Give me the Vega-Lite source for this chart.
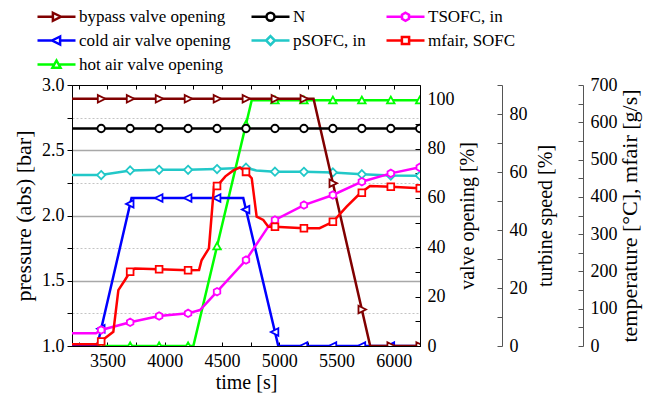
{
  "$schema": "https://vega.github.io/schema/vega-lite/v6.json",
  "width": 348,
  "height": 261,
  "autosize": {"type": "none"},
  "padding": {"left": 72, "top": 85, "right": 227, "bottom": 50},
  "background": "white",
  "config": {
    "font": "Liberation Serif",
    "view": {"stroke": "black", "strokeWidth": 1},
    "axis": {
      "labelFont": "Liberation Serif",
      "labelFontSize": 18,
      "labelColor": "black",
      "titleFont": "Liberation Serif",
      "titleFontSize": 20,
      "titleFontWeight": "normal",
      "titleColor": "black",
      "domainColor": "black",
      "tickColor": "black",
      "grid": false,
      "labelOverlap": false,
      "labelFlush": false
    },
    "legend": {
      "orient": "none",
      "direction": "horizontal",
      "legendX": -39,
      "legendY": -77,
      "columns": 3,
      "title": null,
      "padding": 0,
      "labelFont": "Liberation Serif",
      "labelFontSize": 17,
      "labelColor": "black",
      "labelLimit": 0,
      "symbolSize": 64,
      "symbolStrokeWidth": 2.5,
      "symbolFillColor": "white",
      "symbolBaseFillColor": "white",
      "rowPadding": 5,
      "columnPadding": 15,
      "symbolOffset": 15,
      "labelOffset": 14,
      "gridAlign": "each"
    }
  },
  "datasets": {
    "lines": [
      {"series": "bypass valve opening", "t": 3190, "value": 100.2},
      {"series": "bypass valve opening", "t": 5300, "value": 100.2},
      {"series": "bypass valve opening", "t": 5795, "value": 0},
      {"series": "bypass valve opening", "t": 6230, "value": 0},
      {"series": "cold air valve opening", "t": 3190, "value": 0},
      {"series": "cold air valve opening", "t": 3410, "value": 0},
      {"series": "cold air valve opening", "t": 3710, "value": 60},
      {"series": "cold air valve opening", "t": 4686, "value": 60},
      {"series": "cold air valve opening", "t": 4992, "value": 0},
      {"series": "cold air valve opening", "t": 6230, "value": 0},
      {"series": "hot air valve opening", "t": 3190, "value": 0},
      {"series": "hot air valve opening", "t": 4250, "value": 0},
      {"series": "hot air valve opening", "t": 4760, "value": 99.6},
      {"series": "hot air valve opening", "t": 6230, "value": 99.6},
      {"series": "N", "t": 3190, "value": 75},
      {"series": "N", "t": 6230, "value": 75},
      {"series": "pSOFC, in", "t": 3190, "value": 2.31},
      {"series": "pSOFC, in", "t": 3440, "value": 2.31},
      {"series": "pSOFC, in", "t": 3700, "value": 2.345},
      {"series": "pSOFC, in", "t": 3950, "value": 2.35},
      {"series": "pSOFC, in", "t": 4200, "value": 2.35},
      {"series": "pSOFC, in", "t": 4450, "value": 2.356},
      {"series": "pSOFC, in", "t": 4600, "value": 2.362},
      {"series": "pSOFC, in", "t": 4710, "value": 2.366},
      {"series": "pSOFC, in", "t": 4800, "value": 2.345},
      {"series": "pSOFC, in", "t": 4963, "value": 2.336},
      {"series": "pSOFC, in", "t": 5216, "value": 2.335},
      {"series": "pSOFC, in", "t": 5469, "value": 2.33},
      {"series": "pSOFC, in", "t": 5722, "value": 2.316},
      {"series": "pSOFC, in", "t": 5975, "value": 2.306},
      {"series": "pSOFC, in", "t": 6230, "value": 2.305},
      {"series": "TSOFC, in", "t": 3190, "value": 34},
      {"series": "TSOFC, in", "t": 3400, "value": 34},
      {"series": "TSOFC, in", "t": 3445, "value": 43},
      {"series": "TSOFC, in", "t": 3698, "value": 63.5},
      {"series": "TSOFC, in", "t": 3951, "value": 80.5},
      {"series": "TSOFC, in", "t": 4204, "value": 87.6},
      {"series": "TSOFC, in", "t": 4308, "value": 96.5},
      {"series": "TSOFC, in", "t": 4457, "value": 145.6},
      {"series": "TSOFC, in", "t": 4710, "value": 230.6},
      {"series": "TSOFC, in", "t": 4900, "value": 318},
      {"series": "TSOFC, in", "t": 4963, "value": 338},
      {"series": "TSOFC, in", "t": 5216, "value": 378},
      {"series": "TSOFC, in", "t": 5469, "value": 405},
      {"series": "TSOFC, in", "t": 5722, "value": 440.7},
      {"series": "TSOFC, in", "t": 5975, "value": 463},
      {"series": "TSOFC, in", "t": 6230, "value": 479.5},
      {"series": "mfair, SOFC", "t": 3190, "value": 5},
      {"series": "mfair, SOFC", "t": 3405, "value": 5},
      {"series": "mfair, SOFC", "t": 3449, "value": 14},
      {"series": "mfair, SOFC", "t": 3551, "value": 38},
      {"series": "mfair, SOFC", "t": 3595, "value": 150},
      {"series": "mfair, SOFC", "t": 3653, "value": 177},
      {"series": "mfair, SOFC", "t": 3697, "value": 199},
      {"series": "mfair, SOFC", "t": 3741, "value": 208},
      {"series": "mfair, SOFC", "t": 3951, "value": 206},
      {"series": "mfair, SOFC", "t": 4204, "value": 203},
      {"series": "mfair, SOFC", "t": 4300, "value": 204},
      {"series": "mfair, SOFC", "t": 4322, "value": 230},
      {"series": "mfair, SOFC", "t": 4386, "value": 262},
      {"series": "mfair, SOFC", "t": 4430, "value": 427},
      {"series": "mfair, SOFC", "t": 4457, "value": 429},
      {"series": "mfair, SOFC", "t": 4530, "value": 455},
      {"series": "mfair, SOFC", "t": 4600, "value": 471},
      {"series": "mfair, SOFC", "t": 4657, "value": 479},
      {"series": "mfair, SOFC", "t": 4710, "value": 467},
      {"series": "mfair, SOFC", "t": 4760, "value": 450},
      {"series": "mfair, SOFC", "t": 4803, "value": 347},
      {"series": "mfair, SOFC", "t": 4861, "value": 338},
      {"series": "mfair, SOFC", "t": 4905, "value": 320},
      {"series": "mfair, SOFC", "t": 4963, "value": 320},
      {"series": "mfair, SOFC", "t": 5216, "value": 316},
      {"series": "mfair, SOFC", "t": 5353, "value": 316},
      {"series": "mfair, SOFC", "t": 5469, "value": 333},
      {"series": "mfair, SOFC", "t": 5589, "value": 374},
      {"series": "mfair, SOFC", "t": 5705, "value": 409},
      {"series": "mfair, SOFC", "t": 5793, "value": 429},
      {"series": "mfair, SOFC", "t": 5975, "value": 427},
      {"series": "mfair, SOFC", "t": 6230, "value": 423}
    ],
    "markers": [
      {"series": "bypass valve opening", "t": 3445, "value": 100.2},
      {"series": "bypass valve opening", "t": 3698, "value": 100.2},
      {"series": "bypass valve opening", "t": 3951, "value": 100.2},
      {"series": "bypass valve opening", "t": 4204, "value": 100.2},
      {"series": "bypass valve opening", "t": 4457, "value": 100.2},
      {"series": "bypass valve opening", "t": 4710, "value": 100.2},
      {"series": "bypass valve opening", "t": 4963, "value": 100.2},
      {"series": "bypass valve opening", "t": 5216, "value": 100.2},
      {"series": "bypass valve opening", "t": 5469, "value": 66},
      {"series": "bypass valve opening", "t": 5722, "value": 14.8},
      {"series": "bypass valve opening", "t": 5975, "value": 0},
      {"series": "bypass valve opening", "t": 6228, "value": 0},
      {"series": "N", "t": 3445, "value": 75},
      {"series": "N", "t": 3698, "value": 75},
      {"series": "N", "t": 3951, "value": 75},
      {"series": "N", "t": 4204, "value": 75},
      {"series": "N", "t": 4457, "value": 75},
      {"series": "N", "t": 4710, "value": 75},
      {"series": "N", "t": 4963, "value": 75},
      {"series": "N", "t": 5216, "value": 75},
      {"series": "N", "t": 5469, "value": 75},
      {"series": "N", "t": 5722, "value": 75},
      {"series": "N", "t": 5975, "value": 75},
      {"series": "N", "t": 6228, "value": 75},
      {"series": "TSOFC, in", "t": 3445, "value": 43},
      {"series": "TSOFC, in", "t": 3698, "value": 63.5},
      {"series": "TSOFC, in", "t": 3951, "value": 80.5},
      {"series": "TSOFC, in", "t": 4204, "value": 87.6},
      {"series": "TSOFC, in", "t": 4457, "value": 145.6},
      {"series": "TSOFC, in", "t": 4710, "value": 230.6},
      {"series": "TSOFC, in", "t": 4963, "value": 338},
      {"series": "TSOFC, in", "t": 5216, "value": 378},
      {"series": "TSOFC, in", "t": 5469, "value": 405},
      {"series": "TSOFC, in", "t": 5722, "value": 440.7},
      {"series": "TSOFC, in", "t": 5975, "value": 463},
      {"series": "TSOFC, in", "t": 6228, "value": 479},
      {"series": "cold air valve opening", "t": 3445, "value": 7},
      {"series": "cold air valve opening", "t": 3698, "value": 57.6},
      {"series": "cold air valve opening", "t": 3951, "value": 60},
      {"series": "cold air valve opening", "t": 4204, "value": 60},
      {"series": "cold air valve opening", "t": 4457, "value": 60},
      {"series": "cold air valve opening", "t": 4710, "value": 55.3},
      {"series": "cold air valve opening", "t": 4963, "value": 5.7},
      {"series": "cold air valve opening", "t": 5216, "value": 0},
      {"series": "cold air valve opening", "t": 5469, "value": 0},
      {"series": "cold air valve opening", "t": 5722, "value": 0},
      {"series": "cold air valve opening", "t": 5975, "value": 0},
      {"series": "cold air valve opening", "t": 6228, "value": 0},
      {"series": "pSOFC, in", "t": 3445, "value": 2.31},
      {"series": "pSOFC, in", "t": 3698, "value": 2.345},
      {"series": "pSOFC, in", "t": 3951, "value": 2.35},
      {"series": "pSOFC, in", "t": 4204, "value": 2.35},
      {"series": "pSOFC, in", "t": 4457, "value": 2.356},
      {"series": "pSOFC, in", "t": 4710, "value": 2.366},
      {"series": "pSOFC, in", "t": 4963, "value": 2.336},
      {"series": "pSOFC, in", "t": 5216, "value": 2.335},
      {"series": "pSOFC, in", "t": 5469, "value": 2.33},
      {"series": "pSOFC, in", "t": 5722, "value": 2.316},
      {"series": "pSOFC, in", "t": 5975, "value": 2.306},
      {"series": "pSOFC, in", "t": 6228, "value": 2.305},
      {"series": "mfair, SOFC", "t": 3445, "value": 12},
      {"series": "mfair, SOFC", "t": 3698, "value": 199},
      {"series": "mfair, SOFC", "t": 3951, "value": 206},
      {"series": "mfair, SOFC", "t": 4204, "value": 203},
      {"series": "mfair, SOFC", "t": 4457, "value": 429},
      {"series": "mfair, SOFC", "t": 4710, "value": 467},
      {"series": "mfair, SOFC", "t": 4963, "value": 320},
      {"series": "mfair, SOFC", "t": 5216, "value": 316},
      {"series": "mfair, SOFC", "t": 5469, "value": 333},
      {"series": "mfair, SOFC", "t": 5722, "value": 411},
      {"series": "mfair, SOFC", "t": 5975, "value": 427},
      {"series": "mfair, SOFC", "t": 6228, "value": 423},
      {"series": "hot air valve opening", "t": 3445, "value": 0},
      {"series": "hot air valve opening", "t": 3698, "value": 0},
      {"series": "hot air valve opening", "t": 3951, "value": 0},
      {"series": "hot air valve opening", "t": 4204, "value": 0},
      {"series": "hot air valve opening", "t": 4457, "value": 40.4},
      {"series": "hot air valve opening", "t": 4710, "value": 89.8},
      {"series": "hot air valve opening", "t": 4963, "value": 99.6},
      {"series": "hot air valve opening", "t": 5216, "value": 99.6},
      {"series": "hot air valve opening", "t": 5469, "value": 99.6},
      {"series": "hot air valve opening", "t": 5722, "value": 99.6},
      {"series": "hot air valve opening", "t": 5975, "value": 99.6},
      {"series": "hot air valve opening", "t": 6228, "value": 99.6}
    ]
  },
  "layer": [
    {
      "encoding": {
        "x": {"field": "t", "type": "quantitative", "scale": {"domain": [3190, 6230], "nice": false, "zero": false},
          "axis": {"orient": "bottom", "title": "time [s]", "format": "d",
            "values": [3250, 3500, 3750, 4000, 4250, 4500, 4750, 5000, 5250, 5500, 5750, 6000],
            "labelExpr": "datum.value % 500 === 0 ? datum.label : ''",
            "tickSize": -4, "labelPadding": 10, "titlePadding": 2}},
        "y": {"field": "value", "type": "quantitative", "scale": {"domain": [1, 3], "nice": false, "zero": false},
          "axis": {"orient": "left", "title": "pressure (abs) [bar]", "titleFontSize": 22, "format": ".1f",
            "values": [1, 1.25, 1.5, 1.75, 2, 2.25, 2.5, 2.75, 3],
            "labelExpr": "datum.value % 0.5 === 0 ? datum.label : ''",
            "tickSize": 5, "labelPadding": 3, "titlePadding": 6,
            "grid": true,
            "gridColor": {"condition": {"test": "datum.value % 0.5 === 0", "value": "#a8a8a8"}, "value": "#c4c4c4"},
            "gridDash": {"condition": {"test": "datum.value % 0.5 === 0", "value": []}, "value": [2, 2]},
            "gridWidth": {"condition": {"test": "datum.value % 0.5 === 0", "value": 1.3}, "value": 1},
            "gridOpacity": {"condition": {"test": "datum.value === 1 || datum.value === 3", "value": 0}, "value": 1}}}
      },
      "layer": [
        {"data": {"name": "lines"}, "transform": [{"filter": "datum.series === 'pSOFC, in'"}],
          "mark": {"type": "line", "color": "#22c8c8", "strokeWidth": 2.5, "clip": true}},
        {"data": {"name": "markers"}, "transform": [{"filter": "datum.series === 'pSOFC, in'"}],
          "mark": {"type": "point", "shape": "M0,-1.1L1.1,0L0,1.1L-1.1,0Z", "size": 56, "filled": true, "fill": "white", "stroke": "#22c8c8", "strokeWidth": 1.8, "opacity": 1, "clip": true}}
      ]
    },
    {
      "encoding": {
        "x": {"field": "t", "type": "quantitative", "scale": {"domain": [3190, 6230], "nice": false, "zero": false},
          "axis": {"orient": "top", "title": null, "labels": false, "domain": false,
            "values": [3250, 3500, 3750, 4000, 4250, 4500, 4750, 5000, 5250, 5500, 5750, 6000],
            "tickSize": -4}},
        "y": {"field": "value", "type": "quantitative", "scale": {"domain": [0, 105.8], "nice": false, "zero": false},
          "axis": {"orient": "right", "title": "valve opening [%]", "titleAngle": 270, "titleBaseline": "top",
            "values": [0, 10, 20, 30, 40, 50, 60, 70, 80, 90, 100],
            "labelExpr": "datum.value % 20 === 0 ? datum.label : ''",
            "tickSize": -5, "labelPadding": 12, "titlePadding": 3}}
      },
      "layer": [
        {"data": {"name": "lines"}, "transform": [{"filter": "datum.series === 'hot air valve opening'"}],
          "mark": {"type": "line", "color": "#00ff00", "strokeWidth": 2.5, "clip": true}},
        {"data": {"name": "markers"}, "transform": [{"filter": "datum.series === 'hot air valve opening'"}],
          "mark": {"type": "point", "shape": "M-1,0.8L0,-1L1,0.8Z", "size": 56, "filled": true, "fill": "white", "stroke": "#00ff00", "strokeWidth": 1.8, "opacity": 1, "clip": true}},
        {"data": {"name": "lines"}, "transform": [{"filter": "datum.series === 'cold air valve opening'"}],
          "mark": {"type": "line", "color": "#0000ff", "strokeWidth": 2.5, "clip": true}},
        {"data": {"name": "markers"}, "transform": [{"filter": "datum.series === 'cold air valve opening'"}],
          "mark": {"type": "point", "shape": "M0.9,-1L-1.1,0L0.9,1Z", "size": 56, "filled": true, "fill": "white", "stroke": "#0000ff", "strokeWidth": 1.8, "opacity": 1, "clip": true}},
        {"data": {"name": "lines"}, "transform": [{"filter": "datum.series === 'bypass valve opening'"}],
          "mark": {"type": "line", "color": "#800000", "strokeWidth": 2.5, "clip": true}},
        {"data": {"name": "markers"}, "transform": [{"filter": "datum.series === 'bypass valve opening'"}],
          "mark": {"type": "point", "shape": "M-0.9,-1L1.1,0L-0.9,1Z", "size": 56, "filled": true, "fill": "white", "stroke": "#800000", "strokeWidth": 1.8, "opacity": 1, "clip": true}}
      ]
    },
    {
      "encoding": {
        "x": {"field": "t", "type": "quantitative", "scale": {"domain": [3190, 6230], "nice": false, "zero": false}, "axis": null},
        "y": {"field": "value", "type": "quantitative", "scale": {"domain": [0, 90], "nice": false, "zero": false},
          "axis": {"orient": "right", "offset": 82, "title": "turbine speed [%]", "titleAngle": 270, "titleBaseline": "top",
            "values": [0, 10, 20, 30, 40, 50, 60, 70, 80, 90],
            "labelExpr": "datum.value % 20 === 0 ? datum.label : ''",
            "domainColor": "#555555", "tickColor": "#555555",
            "tickSize": -5, "labelPadding": 12, "titlePadding": 8}}
      },
      "layer": [
        {"data": {"name": "lines"}, "transform": [{"filter": "datum.series === 'N'"}],
          "mark": {"type": "line", "color": "#000000", "strokeWidth": 2.5, "clip": true}},
        {"data": {"name": "markers"}, "transform": [{"filter": "datum.series === 'N'"}],
          "mark": {"type": "point", "shape": "M-1,0A1,1,0,1,0,1,0A1,1,0,1,0,-1,0Z", "size": 56, "filled": true, "fill": "white", "stroke": "#000000", "strokeWidth": 1.8, "opacity": 1, "clip": true}}
      ]
    },
    {
      "encoding": {
        "x": {"field": "t", "type": "quantitative", "scale": {"domain": [3190, 6230], "nice": false, "zero": false}, "axis": null},
        "y": {"field": "value", "type": "quantitative", "scale": {"domain": [0, 700], "nice": false, "zero": false},
          "axis": {"orient": "right", "offset": 163, "title": "temperature [°C], mfair [g/s]", "titleFontSize": 22, "titleAngle": 270, "titleBaseline": "top",
            "values": [0, 50, 100, 150, 200, 250, 300, 350, 400, 450, 500, 550, 600, 650, 700],
            "labelExpr": "datum.value % 100 === 0 ? datum.label : ''",
            "domainColor": "#555555", "tickColor": "#555555",
            "tickSize": -5, "labelPadding": 12, "titlePadding": 2}}
      },
      "layer": [
        {"data": {"name": "lines"}, "transform": [{"filter": "datum.series === 'TSOFC, in'"}],
          "mark": {"type": "line", "color": "#ff00ff", "strokeWidth": 2.5, "clip": true}},
        {"data": {"name": "markers"}, "transform": [{"filter": "datum.series === 'TSOFC, in'"}],
          "mark": {"type": "point", "shape": "M0,-1L0.87,-0.5L0.87,0.5L0,1L-0.87,0.5L-0.87,-0.5Z", "size": 56, "filled": true, "fill": "white", "stroke": "#ff00ff", "strokeWidth": 1.8, "opacity": 1, "clip": true}},
        {"data": {"name": "lines"}, "transform": [{"filter": "datum.series === 'mfair, SOFC'"}],
          "mark": {"type": "line", "color": "#ff0000", "strokeWidth": 2.5, "clip": true}},
        {"data": {"name": "markers"}, "transform": [{"filter": "datum.series === 'mfair, SOFC'"}],
          "mark": {"type": "point", "shape": "M-0.9,-0.9H0.9V0.9H-0.9Z", "size": 56, "filled": true, "fill": "white", "stroke": "#ff0000", "strokeWidth": 1.8, "opacity": 1, "clip": true}}
      ]
    },
    {
      "data": {"name": "markers"},
      "mark": {"type": "point", "filled": false, "opacity": 0, "size": 64, "strokeWidth": 2.5},
      "encoding": {
        "x": {"field": "t", "type": "quantitative", "scale": {"domain": [3190, 6230], "nice": false, "zero": false}, "axis": null},
        "y": {"field": "value", "type": "quantitative", "axis": null},
        "color": {"field": "series", "type": "nominal",
          "scale": {"domain": ["bypass valve opening", "N", "TSOFC, in", "cold air valve opening", "pSOFC, in", "mfair, SOFC", "hot air valve opening"],
            "range": ["#800000", "#000000", "#ff00ff", "#0000ff", "#22c8c8", "#ff0000", "#00ff00"]},
          "legend": {}},
        "shape": {"field": "series", "type": "nominal",
          "scale": {"domain": ["bypass valve opening", "N", "TSOFC, in", "cold air valve opening", "pSOFC, in", "mfair, SOFC", "hot air valve opening"],
            "range": [
              "M-4.75,0H-0.9M1.1,0H4.75M-0.9,-1L1.1,0L-0.9,1Z",
              "M-4.75,0H-1M1,0H4.75M-1,0A1,1,0,1,0,1,0A1,1,0,1,0,-1,0Z",
              "M-4.75,0H-0.87M0.87,0H4.75M0,-1L0.87,-0.5L0.87,0.5L0,1L-0.87,0.5L-0.87,-0.5Z",
              "M-4.75,0H-1.1M0.9,0H4.75M0.9,-1L-1.1,0L0.9,1Z",
              "M-4.75,0H-1.1M1.1,0H4.75M0,-1.1L1.1,0L0,1.1L-1.1,0Z",
              "M-4.75,0H-0.9M0.9,0H4.75M-0.9,-0.9H0.9V0.9H-0.9Z",
              "M-4.75,0H-0.55M0.55,0H4.75M-1,0.8L0,-1L1,0.8Z"
            ]},
          "legend": {}}
      }
    }
  ],
  "resolve": {"scale": {"y": "independent"}, "axis": {"x": "independent", "y": "independent"}}
}
